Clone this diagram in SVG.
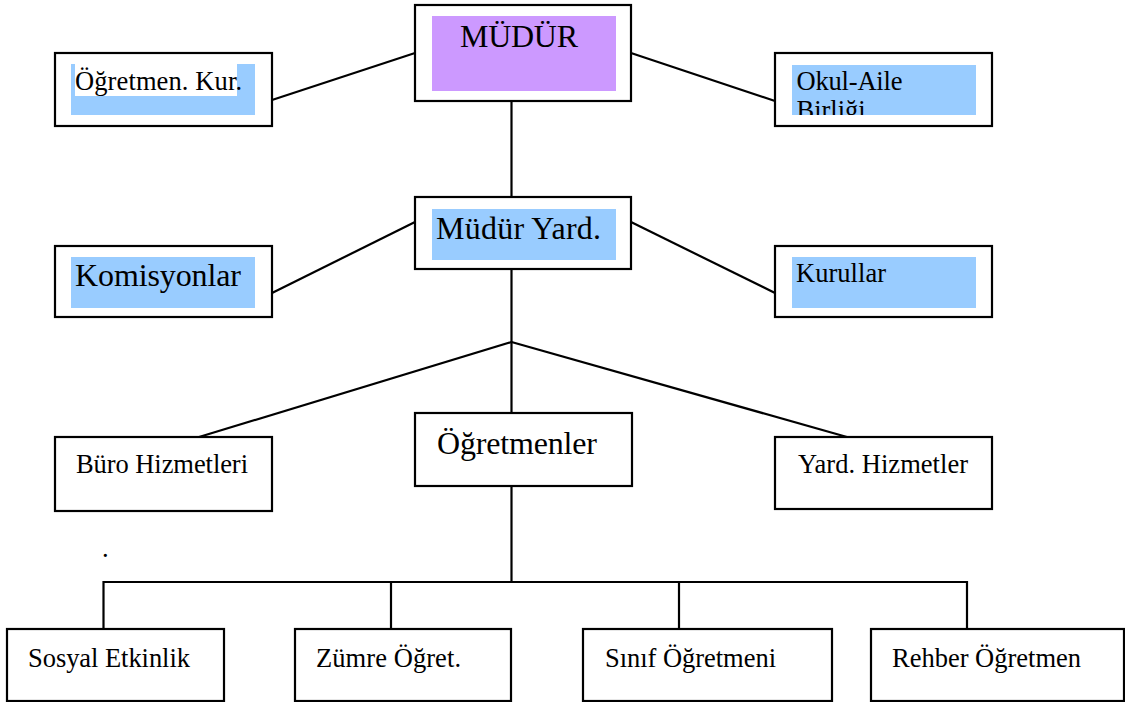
<svg xmlns="http://www.w3.org/2000/svg" width="1125" height="702" viewBox="0 0 1125 702">
<style>
.box{fill:#fff;stroke:#000;stroke-width:2.2}
.hl{fill:#99ccff}
.pu{fill:#cc99ff}
.t{font-family:'Liberation Serif','Times New Roman',serif;fill:#000}
.s26{font-size:26.5px}
.s32{font-size:32px}
#connectors line,#connectors polyline{stroke:#000;stroke-width:2.2;fill:none}
</style>
<rect width="1125" height="702" fill="#fff"/>
<g id="connectors">
<line x1="415" y1="53" x2="272" y2="100"/>
<line x1="631" y1="53" x2="775" y2="101"/>
<line x1="511.5" y1="101" x2="511.5" y2="197"/>
<line x1="415" y1="222" x2="272" y2="293"/>
<line x1="631" y1="222" x2="775" y2="293"/>
<line x1="511.5" y1="269" x2="511.5" y2="413"/>
<line x1="511.5" y1="342" x2="199" y2="437"/>
<line x1="511.5" y1="342" x2="847" y2="437"/>
<line x1="511.5" y1="486" x2="511.5" y2="582"/>
<polyline points="103.5,629 103.5,582 967,582 967,629"/>
<line x1="391" y1="582" x2="391" y2="629"/>
<line x1="679" y1="582" x2="679" y2="629"/>
</g>
<g id="mudur">
<rect class="box" x="415" y="5" width="216" height="96"/>
<rect class="pu" x="432" y="16" width="184" height="75"/>
<text class="t s32" x="460" y="47" textLength="118">MÜDÜR</text>
</g>
<g id="ogretmen-kur">
<rect class="box" x="55" y="53" width="217" height="73"/>
<rect class="hl" x="71" y="64" width="184" height="51"/>
<rect fill="#fff" x="75" y="64" width="162" height="32"/>
<text class="t s26" x="75" y="90" textLength="167">Öğretmen. Kur.</text>
</g>
<g id="okul-aile">
<rect class="box" x="775" y="53" width="217" height="73"/>
<rect class="hl" x="792" y="65" width="184" height="50"/>
<svg x="792" y="65" width="184" height="50" overflow="hidden">
<text class="t s26" x="4.5" y="24.5" textLength="106">Okul-Aile</text>
<text class="t s26" x="4.5" y="53.5">Birliği</text>
</svg>
</g>
<g id="mudur-yard">
<rect class="box" x="415" y="197" width="216" height="72"/>
<rect class="hl" x="432" y="209" width="184" height="51"/>
<text class="t s32" x="436" y="239" textLength="165">Müdür Yard.</text>
</g>
<g id="komisyonlar">
<rect class="box" x="55" y="246" width="217" height="71"/>
<rect class="hl" x="71" y="257" width="184" height="51"/>
<text class="t s32" x="75" y="286" textLength="166">Komisyonlar</text>
</g>
<g id="kurullar">
<rect class="box" x="775" y="246" width="217" height="71"/>
<rect class="hl" x="792" y="257" width="184" height="51"/>
<text class="t s26" x="796" y="282" textLength="90">Kurullar</text>
</g>
<g id="buro">
<rect class="box" x="55" y="437" width="217" height="74"/>
<text class="t s26" x="76" y="473" textLength="172">Büro Hizmetleri</text>
</g>
<g id="ogretmenler">
<rect class="box" x="415" y="413" width="217" height="73"/>
<text class="t s32" x="437" y="454" textLength="160">Öğretmenler</text>
</g>
<g id="yard-hizmetler">
<rect class="box" x="775" y="437" width="217" height="72"/>
<text class="t s26" x="798" y="473" textLength="170">Yard. Hizmetler</text>
</g>
<text class="t s26" x="102" y="557">.</text>
<g id="sosyal">
<rect class="box" x="7" y="629" width="217" height="72"/>
<text class="t s26" x="28" y="667" textLength="162">Sosyal Etkinlik</text>
</g>
<g id="zumre">
<rect class="box" x="295" y="629" width="216" height="72"/>
<text class="t s26" x="316" y="667" textLength="145">Zümre Öğret.</text>
</g>
<g id="sinif">
<rect class="box" x="583" y="629" width="249" height="72"/>
<text class="t s26" x="605" y="667" textLength="171">Sınıf Öğretmeni</text>
</g>
<g id="rehber">
<rect class="box" x="871" y="629" width="253" height="72"/>
<text class="t s26" x="892" y="667" textLength="189">Rehber Öğretmen</text>
</g>
</svg>
